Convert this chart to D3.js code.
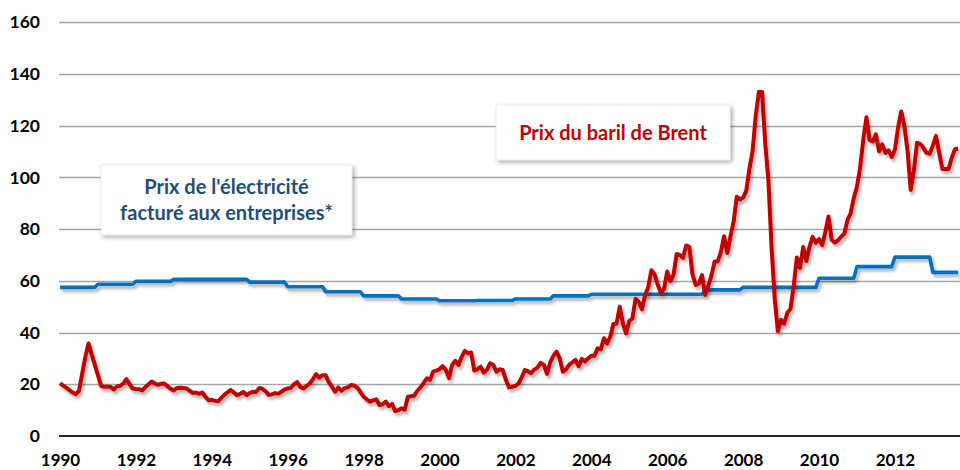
<!DOCTYPE html>
<html>
<head>
<meta charset="utf-8">
<script src="https://cdnjs.cloudflare.com/ajax/libs/d3/7.8.5/d3.min.js"></script>
<style>
  body { margin: 0; background: #fff; }
  text { font-family: Lato, "Open Sans", sans-serif; font-weight: bold; }
</style>
</head>
<body>
<div class="container"></div>
<script>
// monthly Brent price, Jan 1990 -> Sep 2013 ($/bbl)
var brentPrices = [
  20.4, 19.5, 18.7, 17.7, 16.8, 16.2, 17.4, 24.0, 30.5, 35.8, 31.7, 27.6, // 1990
  23.5, 19.4, 19.0, 19.1, 19.0, 18.0, 19.2, 19.4, 20.3, 22.0, 20.0, 18.4, // 1991
  18.2, 18.1, 17.6, 18.9, 20.0, 21.1, 20.3, 19.8, 20.2, 20.3, 19.2, 18.3, // 1992
  17.6, 18.6, 18.7, 18.6, 18.4, 17.5, 16.7, 16.8, 16.3, 16.8, 15.2, 13.8, // 1993
  14.0, 13.6, 13.4, 14.7, 16.0, 16.9, 17.8, 16.8, 15.8, 16.3, 17.0, 15.8, // 1994
  16.6, 17.1, 17.0, 18.6, 18.3, 17.3, 15.9, 16.1, 16.6, 16.3, 17.1, 17.9, // 1995
  18.4, 18.6, 20.0, 20.8, 19.0, 18.4, 19.4, 20.3, 22.0, 23.9, 22.6, 23.5, // 1996
  23.5, 20.8, 19.0, 17.1, 18.8, 17.5, 18.5, 18.8, 19.7, 19.5, 18.8, 17.0, // 1997
  15.2, 14.2, 13.3, 13.8, 14.2, 12.0, 12.3, 13.3, 11.6, 12.4, 9.6, 10.0,  // 1998
  10.7, 10.2, 15.2, 15.4, 15.6, 17.5, 18.8, 20.5, 22.3, 21.7, 24.9, 25.3, // 1999
  25.8, 27.0, 25.5, 22.4, 27.5, 29.1, 27.5, 30.5, 32.9, 32.0, 32.3, 25.3, // 2000
  25.8, 26.8, 24.5, 25.6, 28.1, 27.5, 24.9, 25.8, 25.5, 21.7, 18.8, 19.0, // 2001
  19.4, 20.3, 22.7, 25.5, 25.0, 24.3, 25.7, 26.5, 28.3, 27.5, 24.0, 28.5, // 2002
  31.0, 32.6, 30.0, 24.9, 25.8, 27.5, 28.5, 29.4, 27.0, 29.8, 28.8, 30.0, // 2003
  31.0, 31.0, 33.9, 33.5, 37.8, 35.8, 38.3, 43.3, 43.5, 50.0, 43.5, 39.7, // 2004
  44.5, 45.5, 53.1, 51.9, 49.0, 54.3, 57.6, 64.1, 62.5, 58.5, 55.5, 56.8, // 2005
  63.6, 59.9, 62.3, 70.4, 70.0, 68.9, 73.7, 73.2, 62.5, 58.4, 58.9, 62.2, // 2006
  54.6, 58.0, 62.1, 67.5, 67.5, 71.3, 77.2, 70.8, 77.1, 82.9, 92.5, 91.5, // 2007
  92.2, 94.8, 103.3, 110.2, 123.9, 133.1, 133.0, 113.2, 99.0, 72.8, 53.2, 40.5, // 2008
  44.9, 43.4, 47.7, 49.2, 58.0, 69.0, 65.0, 73.1, 67.7, 73.2, 77.0, 74.7, // 2009
  76.2, 73.8, 78.8, 84.9, 75.9, 74.8, 75.6, 77.1, 78.2, 83.5, 86.1, 92.0, // 2010
  96.5, 103.7, 114.6, 123.3, 114.5, 113.9, 116.7, 110.1, 112.8, 109.5, 110.5, 107.9, // 2011
  110.7, 119.3, 125.5, 119.8, 110.3, 95.2, 102.6, 113.4, 113.0, 111.5, 109.5, 109.2, // 2012
  112.3, 116.1, 109.5, 103.3, 103.3, 103.3, 107.7, 110.9, 111.2               // 2013
];
var brentStart = 1990;

// yearly electricity price index for businesses
var elecYears  = [1990,1991,1992,1993,1994,1995,1996,1997,1998,1999,2000,2001,
                  2002,2003,2004,2005,2006,2007,2008,2009,2010,2011,2012,2013];
var elecValues = [57.5,58.7,59.8,60.6,60.6,59.5,57.7,55.8,54.2,53.0,52.3,52.4,
                  53.0,54.2,54.8,54.8,54.8,56.5,57.5,57.5,61.0,65.5,69.2,63.3];

var xTicks = [1990,1992,1994,1996,1998,2000,2002,2004,2006,2008,2010,2012];
var yTicks = [0,20,40,60,80,100,120,140,160];

var chartOptions = {
  width: 960,
  height: 470,
  left: 60,
  right: 960,
  top: 22.3,
  bottom: 436,
  pxPerYear: 37.95
};

var xScale = d3.scaleLinear()
  .domain([1990, 1990 + (chartOptions.right - chartOptions.left) / chartOptions.pxPerYear])
  .range([chartOptions.left, chartOptions.right]);
var yScale = d3.scaleLinear()
  .domain([0, 160])
  .range([chartOptions.bottom, chartOptions.top]);

var svg = d3.select('.container').append('svg')
  .attr('width', chartOptions.width)
  .attr('height', chartOptions.height);

var defs = svg.append('defs');
defs.append('filter')
  .attr('id', 'lineShadow')
  .attr('filterUnits', 'userSpaceOnUse')
  .attr('x', 0).attr('y', 0).attr('width', 960).attr('height', 470)
  .append('feDropShadow')
  .attr('dx', 2).attr('dy', 3).attr('stdDeviation', 1.6)
  .attr('flood-color', '#000').attr('flood-opacity', 0.3);
defs.append('filter')
  .attr('id', 'boxShadow')
  .attr('x', '-10%').attr('y', '-20%').attr('width', '120%').attr('height', '150%')
  .append('feDropShadow')
  .attr('dx', 2).attr('dy', 2).attr('stdDeviation', 2)
  .attr('flood-color', '#000').attr('flood-opacity', 0.35);

// gridlines
svg.append('g').selectAll('line')
  .data(yTicks.filter(function(d){ return d > 0; }))
  .enter().append('line')
  .attr('x1', chartOptions.left - 1)
  .attr('x2', chartOptions.right)
  .attr('y1', function(d){ return Math.round(yScale(d)) + 0.5; })
  .attr('y2', function(d){ return Math.round(yScale(d)) + 0.5; })
  .style('stroke', '#a6a6a6')
  .style('stroke-width', 1.4);

// y axis labels
var yAxis = d3.axisLeft(yScale).tickValues(yTicks).tickSize(0).tickPadding(20);
svg.append('g')
  .attr('transform', 'translate(' + chartOptions.left + ',0)')
  .call(yAxis)
  .call(function(g){ g.select('.domain').remove(); })
  .selectAll('text')
  .style('font-size', '17.5px')
  .style('fill', '#000');

// x axis (zero line + year labels)
var xAxis = d3.axisBottom(xScale).tickValues(xTicks).tickFormat(d3.format('d')).tickSize(0).tickPadding(18);
var xAxisG = svg.append('g')
  .attr('transform', 'translate(0,' + chartOptions.bottom + ')')
  .call(xAxis);
xAxisG.select('.domain').remove();
xAxisG.selectAll('text')
  .style('font-size', '17px')
  .style('fill', '#000');
svg.append('line')
  .attr('x1', chartOptions.left - 1)
  .attr('x2', chartOptions.right)
  .attr('y1', chartOptions.bottom)
  .attr('y2', chartOptions.bottom)
  .style('stroke', '#262626')
  .style('stroke-width', 2);

// electricity: flat within each year
var elecPoints = [];
elecYears.forEach(function(yr, i){
  var end = i === elecYears.length - 1 ? 8 : 11;
  elecPoints.push([yr, elecValues[i]]);
  elecPoints.push([yr + end / 12, elecValues[i]]);
});

var brentPoints = brentPrices.map(function(v, i){
  return [brentStart + i / 12, v];
});

var lineGen = d3.line()
  .x(function(d){ return xScale(d[0]); })
  .y(function(d){ return yScale(d[1]); });

svg.append('path')
  .datum(elecPoints)
  .attr('d', lineGen)
  .attr('filter', 'url(#lineShadow)')
  .style('fill', 'none')
  .style('stroke', '#0070c0')
  .style('stroke-width', 3.6)
  .style('stroke-linejoin', 'round');

svg.append('path')
  .datum(brentPoints)
  .attr('d', lineGen)
  .attr('filter', 'url(#lineShadow)')
  .style('fill', 'none')
  .style('stroke', '#c00000')
  .style('stroke-width', 4)
  .style('stroke-linejoin', 'round');

// annotation boxes
var notes = [
  {lines: ["Prix de l'électricité", 'facturé aux entreprises*'], color: '#1f4e79', x: 101, y: 165, w: 251, h: 70},
  {lines: ['Prix du baril de Brent'], color: '#c00000', x: 496, y: 105, w: 234, h: 55}
];
var noteG = svg.selectAll('.note')
  .data(notes)
  .enter().append('g')
  .attr('class', 'note');
noteG.append('rect')
  .attr('x', function(d){ return d.x; })
  .attr('y', function(d){ return d.y; })
  .attr('width', function(d){ return d.w; })
  .attr('height', function(d){ return d.h; })
  .attr('filter', 'url(#boxShadow)')
  .style('fill', '#fff')
  .style('stroke', '#e0e0e0')
  .style('stroke-width', 0.5);
noteG.each(function(d){
  var g = d3.select(this);
  var lineH = 26;
  var y0 = d.y + d.h / 2 - (d.lines.length - 1) * lineH / 2;
  d.lines.forEach(function(t, i){
    g.append('text')
      .attr('x', d.x + d.w / 2)
      .attr('y', y0 + i * lineH)
      .attr('dy', '0.36em')
      .attr('text-anchor', 'middle')
      .style('font-size', '20px')
      .style('fill', d.color)
      .text(t);
  });
});
</script>
</body>
</html>
